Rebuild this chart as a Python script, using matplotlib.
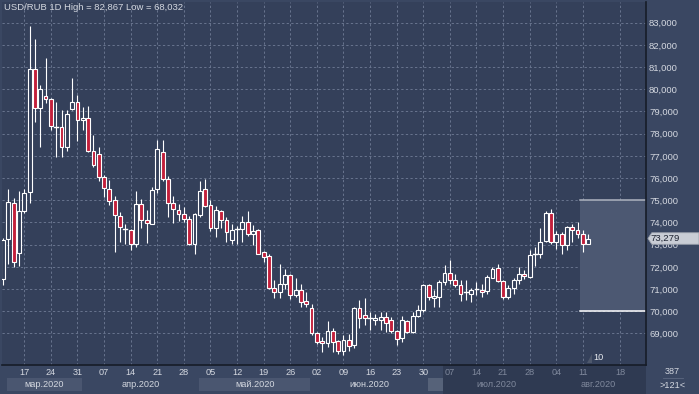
import matplotlib
matplotlib.use("Agg")
import matplotlib.pyplot as plt
from matplotlib.patches import Rectangle, Polygon
from matplotlib import transforms
import pandas as pd

plt.rcParams['font.family'] = ['Liberation Sans', 'DejaVu Sans']

# ---------------- data ----------------
title = "USD/RUB 1D High = 82,867 Low = 68,032"
dates = pd.bdate_range("2020-03-11", "2020-08-12")

opens = [71.45, 73.24, 74.89, 72.61, 74.52, 75.36, 80.90, 79.14, 79.70, 79.55,
         78.35, 78.29, 77.41, 79.10, 79.43, 78.62, 78.69, 77.20, 77.07, 76.03,
         75.49, 75.01, 74.31, 73.66, 73.68, 73.01, 74.85, 74.13, 73.94, 75.51,
         77.16, 75.96, 74.88, 74.58, 74.40, 74.16, 73.04, 74.36, 75.51, 74.81,
         73.76, 74.54, 74.13, 73.20, 73.70, 73.71, 74.00, 73.46, 73.65, 72.65,
         72.48, 71.03, 70.85, 71.25, 71.63, 70.73, 70.95, 70.46, 70.17, 69.00,
         68.66, 68.55, 69.11, 68.66, 68.21, 68.70, 68.48, 70.13, 69.83, 69.70,
         69.63, 69.63, 69.75, 69.63, 69.11, 68.78, 69.57, 69.08, 69.78, 70.05,
         71.18, 70.62, 70.65, 71.33, 71.73, 71.43, 71.20, 70.83, 70.76, 70.98,
         70.98, 70.91, 71.51, 71.93, 71.36, 70.65, 71.03, 71.40, 71.66, 71.55,
         72.53, 72.56, 73.16, 74.45, 73.10, 73.46, 72.98, 73.80, 73.65, 73.46,
         73.05]
highs = [73.30, 75.49, 75.09, 75.43, 75.49, 82.867, 82.25, 80.19, 81.39, 79.59,
         79.44, 79.07, 79.07, 80.49, 79.74, 79.19, 79.25, 77.94, 77.41, 76.14,
         75.91, 75.19, 74.49, 73.94, 73.71, 75.41, 75.06, 74.58, 75.60, 77.70,
         77.70, 76.11, 75.21, 74.85, 74.70, 74.31, 74.45, 75.86, 75.96, 75.00,
         74.76, 74.58, 74.25, 73.91, 73.83, 74.30, 74.50, 73.88, 73.70, 72.71,
         72.60, 71.40, 72.11, 71.90, 71.66, 71.48, 71.21, 70.85, 70.35, 69.08,
         68.85, 69.56, 69.23, 68.70, 68.93, 68.96, 70.20, 70.50, 70.58, 69.98,
         69.90, 69.98, 69.98, 69.75, 69.18, 69.78, 69.63, 69.98, 70.28, 71.25,
         71.25, 70.98, 71.40, 72.07, 72.30, 71.70, 71.40, 71.40, 71.03, 71.30,
         71.21, 71.63, 72.00, 72.15, 71.40, 71.18, 71.51, 72.00, 71.85, 72.75,
         72.90, 73.73, 74.51, 74.60, 73.61, 73.55, 73.85, 73.95, 74.00, 73.65,
         73.46]
lows = [71.18, 72.13, 72.01, 72.05, 74.45, 74.86, 78.54, 77.41, 79.37, 78.17,
        76.96, 76.96, 77.23, 79.08, 77.68, 78.17, 77.18, 76.51, 75.88, 75.16,
        74.79, 72.68, 73.14, 73.01, 72.75, 72.90, 73.76, 73.08, 73.92, 75.33,
        75.86, 74.25, 73.98, 74.06, 74.01, 73.00, 72.60, 74.25, 74.70, 73.61,
        73.35, 73.76, 73.11, 73.05, 73.01, 73.10, 73.40, 73.00, 72.56, 72.23,
        71.00, 70.58, 70.61, 71.00, 70.55, 70.65, 70.20, 70.20, 68.93, 68.51,
        68.18, 68.40, 68.18, 68.06, 68.032, 68.21, 68.36, 69.23, 69.38, 69.15,
        69.38, 69.15, 69.08, 69.00, 68.48, 68.63, 69.00, 69.00, 69.75, 69.98,
        70.50, 70.20, 70.20, 71.18, 71.25, 71.10, 70.47, 70.50, 70.43, 70.73,
        70.65, 70.76, 71.48, 71.30, 70.55, 70.55, 70.80, 71.25, 71.45, 71.48,
        72.05, 72.38, 73.10, 73.05, 72.80, 72.60, 72.75, 73.13, 73.31, 72.68,
        73.05]
closes = [73.20, 74.92, 72.20, 74.53, 75.34, 80.90, 79.14, 80.00, 79.58, 78.35,
          78.29, 77.41, 78.87, 79.43, 78.62, 78.69, 77.20, 76.57, 76.03, 75.54,
          74.98, 74.34, 73.78, 73.70, 73.05, 74.85, 74.13, 73.98, 75.48, 77.31,
          75.96, 74.88, 74.61, 74.40, 74.16, 73.04, 74.40, 75.41, 74.76, 73.76,
          74.55, 74.13, 73.56, 73.68, 73.72, 74.01, 73.46, 73.61, 72.60, 72.45,
          71.03, 70.85, 71.25, 71.63, 70.73, 70.95, 70.40, 70.31, 69.00, 68.63,
          68.55, 69.11, 68.63, 68.21, 68.70, 68.45, 70.13, 69.71, 69.68, 69.68,
          69.71, 69.75, 69.48, 69.11, 68.73, 69.60, 69.08, 69.78, 70.08, 71.18,
          70.65, 70.70, 71.33, 71.73, 71.43, 71.20, 70.80, 70.85, 70.98, 71.00,
          70.88, 71.55, 71.90, 71.36, 70.65, 71.03, 71.40, 71.66, 71.58, 72.53,
          72.56, 73.10, 74.45, 73.10, 73.46, 72.98, 73.80, 73.65, 73.46, 73.05,
          73.279]

last_price = 73.279
zone_low, zone_high = 70.0, 75.0
price_ticks = list(range(69, 84))
tick_every = 5
first_tick = 4
future_tick_date = "2020-08-18"
month_labels = ["мар.2020", "апр.2020", "май.2020", "июн.2020", "июл.2020", "авг.2020"]
marker_label = "10"
corner_top = "387"
corner_bottom = ">121<"

# ---------------- style ----------------
W, H = 699, 394
PANEL = "#3a4762"
PLOT_BG = "#34405a"
GRID = "#66728c"
TXT = "#d4d8e0"
DIM = "#7f889c"
RED = "#c3203c"
EDGE = "#ffffff"
BORDER = "#161c28"
MONTH_LIGHT = "#4a5670"
DARK_REGION = "#2f3a52"

fig = plt.figure(figsize=(W / 100, H / 100), dpi=100)
fig.patch.set_facecolor(PANEL)

L_px, R_px, T_px, B_px = 2, 646, 2, 365
step_px, x0_px = 5.32, 3.0
y83_px, unit_px = 22.7, 22.2

# bottom (time-axis) panel
axb = fig.add_axes([L_px / W, 0, (R_px - L_px) / W, (H - B_px) / H])
axb.set_zorder(0)
axb.set_facecolor(PANEL)
axb.set_xlim((L_px - x0_px) / step_px, (R_px - x0_px) / step_px)
axb.set_ylim(H, B_px)
axb.axis("off")

ax = fig.add_axes([L_px / W, 1 - B_px / H, (R_px - L_px) / W, (B_px - T_px) / H])
ax.set_zorder(1)
ax.set_facecolor(PLOT_BG)
ax.set_xlim((L_px - x0_px) / step_px, (R_px - x0_px) / step_px)
ax.set_ylim(83 - (B_px - y83_px) / unit_px, 83 + (y83_px - T_px) / unit_px)

n = len(opens)
xs = list(range(n))
xe = ax.get_xlim()[1]

# month starts
month_start = [0]
for i in range(1, n):
    if dates[i].month != dates[i - 1].month:
        month_start.append(i)
july_idx = month_start[4]

# ticks
tick_pos = list(range(first_tick, n, tick_every))
fut = (pd.Timestamp(future_tick_date) - dates[-1]).days + (n - 1)
tick_pos.append(fut)
tick_lbl = [dates[i].strftime("%d") for i in tick_pos[:-1]] + [pd.Timestamp(future_tick_date).strftime("%d")]
ax.set_xticks(tick_pos)
ax.set_xticklabels(tick_lbl)
ax.set_yticks(price_ticks)
ax.set_yticklabels([f"{v},000" for v in price_ticks])
ax.yaxis.tick_right()
ax.tick_params(axis="y", length=0, pad=2.2, labelsize=6.8, labelcolor=TXT)
ax.tick_params(axis="x", length=0, pad=2.5, labelsize=6.6, labelcolor=TXT)
for p, t in zip(tick_pos, ax.get_xticklabels()):
    if p > july_idx + 2:
        t.set_color(DIM)
ax.grid(True, color=GRID, linestyle=(0, (2.2, 2.2)), linewidth=0.75)
ax.set_axisbelow(True)
for s in ["left", "top"]:
    ax.spines[s].set_visible(False)
for s in ["right", "bottom"]:
    ax.spines[s].set_color(BORDER)
    ax.spines[s].set_linewidth(1.2)

# projection zone
zone_x = n - 2 - 0.5
ax.add_patch(Rectangle((zone_x, zone_low), xe - zone_x, zone_high - zone_low,
                       facecolor="#4c5872", edgecolor="none", zorder=1.5))
ax.plot([zone_x, xe], [zone_high, zone_high], color="#aeb4c0", lw=1.1, zorder=1.6)
ax.plot([zone_x, xe], [zone_low, zone_low], color="#ffffff", lw=1.1, zorder=1.6)

# candles
bw = 0.72
for i in xs:
    o, h, l, c = opens[i], highs[i], lows[i], closes[i]
    ax.plot([i, i], [l, h], color=EDGE, lw=0.8, zorder=3, solid_capstyle="butt")
    lo, hi = min(o, c), max(o, c)
    face = RED if c < o else PLOT_BG
    if hi - lo < 0.06:
        ax.plot([i - bw / 2, i + bw / 2], [c, c], color=EDGE, lw=1.0, zorder=4)
    else:
        ax.add_patch(Rectangle((i - bw / 2, lo), bw, hi - lo, facecolor=face,
                               edgecolor=EDGE, lw=0.8, zorder=4))

# title
ax.text(2 / (R_px - L_px), 1 - 6 / (B_px - T_px), title, transform=ax.transAxes,
        ha="left", va="center", fontsize=6.8, color=TXT, zorder=6)

# marker "10"
bl = transforms.blended_transform_factory(ax.transData, ax.transAxes)
ax.add_patch(Polygon([[n - 1 - 0.3, 0.006], [n - 1 + 0.7, 0.006], [n - 1 + 0.7, 0.03]],
                     closed=True, transform=bl, facecolor="#4e586c", edgecolor="none", zorder=5))
ax.text(n - 1 + 1.9, 0.02, marker_label, transform=bl,
        ha="center", va="center", fontsize=6.6, color="#e8ebf0", zorder=6)

# price tag
tr = transforms.blended_transform_factory(ax.transAxes, ax.transData)
xr = 1 + (W - R_px) / (R_px - L_px)
hh = 0.26
tag = Polygon([[1.003, last_price], [1.009, last_price + hh], [xr, last_price + hh],
               [xr, last_price - hh], [1.009, last_price - hh]], closed=True,
              transform=tr, facecolor="#c9cdd5", edgecolor="#9aa0ab", lw=0.6, clip_on=False, zorder=10)
ax.add_patch(tag)
ax.text(1 + 4 / (R_px - L_px), last_price, f"{last_price:.3f}".replace(".", ","), transform=tr,
        ha="left", va="center", fontsize=6.8, color="#1c2230", zorder=11, clip_on=False)

# months
month_start_x = [(L_px + 5 - x0_px) / step_px] + [s - 0.2 for s in month_start[1:]]
month_end_x = month_start_x[1:] + [xe]
dark_x = july_idx + 2.7
axb.add_patch(Rectangle((dark_x, B_px), xe - dark_x, H - B_px, facecolor=DARK_REGION, edgecolor="none"))
for k, lab in enumerate(month_labels):
    a, b = month_start_x[k], month_end_x[k]
    if k in (0, 2):
        axb.add_patch(Rectangle((a, 378), b - a, 13, facecolor=MONTH_LIGHT, edgecolor="none"))
    if k == 4:
        axb.add_patch(Rectangle((a, 378), dark_x - a, 13, facecolor="#566279", edgecolor="none"))
    cx = (a + b) / 2 if k < 5 else a + 9
    if k == 4:
        cx = (dark_x + b) / 2
    axb.text(cx, 384.5, lab, ha="center", va="center",
             fontsize=6.6, color=TXT if k < 4 else DIM)

# right-bottom corner
fig.text((R_px + W) / 2 / W, 1 - 372 / H, corner_top, ha="center", va="center", fontsize=6.6, color=TXT)
fig.lines.append(plt.Line2D([(R_px + W) / 2 / W - 10 / W, (R_px + W) / 2 / W + 10 / W],
                            [1 - 378 / H, 1 - 378 / H], transform=fig.transFigure, color="#5c6880", lw=0.6))
fig.text((R_px + W) / 2 / W, 1 - 385 / H, corner_bottom, ha="center", va="center", fontsize=6.6, color=TXT)

fig.savefig("out.png", dpi=100, facecolor=fig.get_facecolor())
